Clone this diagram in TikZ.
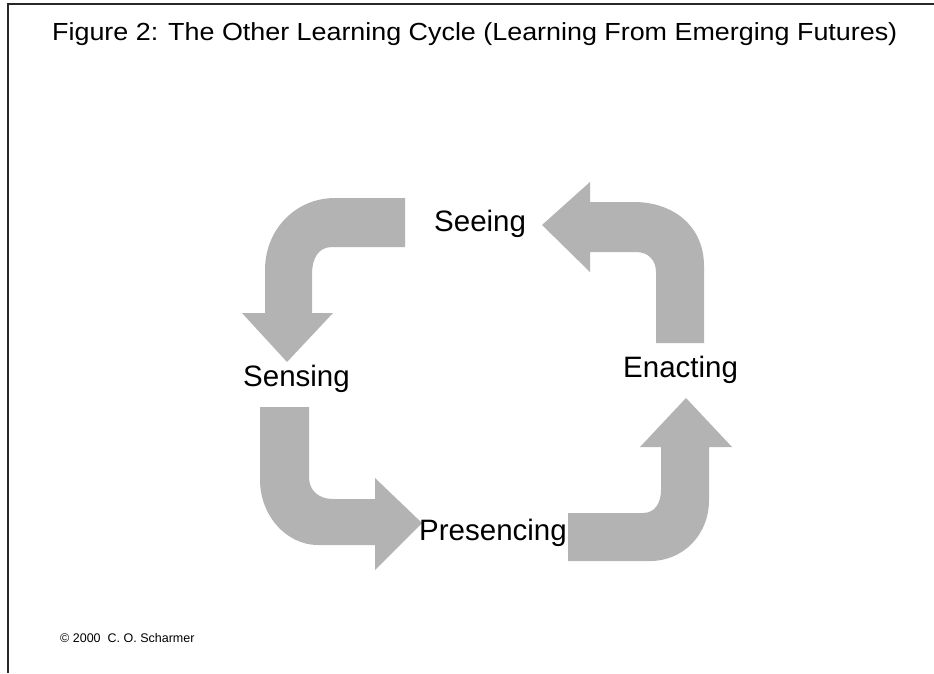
\documentclass[tikz,border=0pt]{standalone}
\usepackage{fontspec}
\setmainfont{Liberation Sans}
\definecolor{arrowgray}{RGB}{179,179,179}
\definecolor{framegray}{RGB}{40,40,40}
\tikzset{
  blockarrow/.style={fill=arrowgray, draw=none},
  lbl/.style={inner sep=0pt, anchor=base west, font=\fontsize{29.5}{34}\selectfont},
  frameline/.style={draw=framegray, line width=1.6pt}
}
\begin{document}
\begin{tikzpicture}[x=1pt,y=-1pt]
\useasboundingbox (0,0) rectangle (934,673);
\fill[white] (0,0) rectangle (934,673);
% frame
\coordinate (ftl) at (8,4);
\coordinate (ftr) at (934,4);
\coordinate (fbl) at (8,673);
\draw[frameline] (ftr) -- (ftl) -- (fbl);
% title
\node[inner sep=0pt, anchor=base west] (title) at (52,40)
  {\scalebox{1.12}[1.03]{\fontsize{24}{28}\selectfont Figure 2: The Other Learning Cycle (Learning From Emerging Futures)}};
% arrow Seeing -> Sensing
\path[blockarrow] (405,198) -- (335,198)
  .. controls (296,198) and (265,229) .. (265,270)
  -- (265,313) -- (242,313) -- (287,362) -- (333,313) -- (312,313) -- (312,274)
  .. controls (312,259) and (318,247) .. (332,247)
  -- (405,247) -- cycle;
% arrow Enacting -> Seeing
\path[blockarrow] (704,343) -- (704,266)
  .. controls (704,226) and (673,202) .. (634,202)
  -- (590,202) -- (590,182) -- (542,225) -- (590,272) -- (590,252) -- (636,252)
  .. controls (648,252) and (656,260) .. (656,272)
  -- (656,343) -- cycle;
% arrow Sensing -> Presencing
\path[blockarrow] (260,407) -- (309,407) -- (309,477)
  .. controls (309,490) and (318,499) .. (333,499)
  -- (375,499) -- (375,478) -- (422,523) -- (375,570) -- (375,545) -- (318,545)
  .. controls (286,545) and (260,515) .. (260,480)
  -- cycle;
% arrow Presencing -> Enacting
\path[blockarrow] (568,513) -- (643,513)
  .. controls (655,513) and (661,503) .. (661,490)
  -- (661,447) -- (640,447) -- (686,398) -- (732,447) -- (709,447) -- (709,500)
  .. controls (709,535) and (683,561) .. (650,561)
  -- (568,561) -- cycle;
% labels
\node[lbl] (seeing) at (434,231) {Seeing};
\node[lbl] (sensing) at (243,386) {Sensing};
\node[lbl] (enacting) at (623,377) {Enacting};
\node[lbl] (presencing) at (419,540) {Presencing};
% copyright
\node[inner sep=0pt, anchor=base west, font=\fontsize{12.5}{15}\selectfont] (copy) at (60,642) {© 2000\ \ C. O. Scharmer};
\end{tikzpicture}
\end{document}
